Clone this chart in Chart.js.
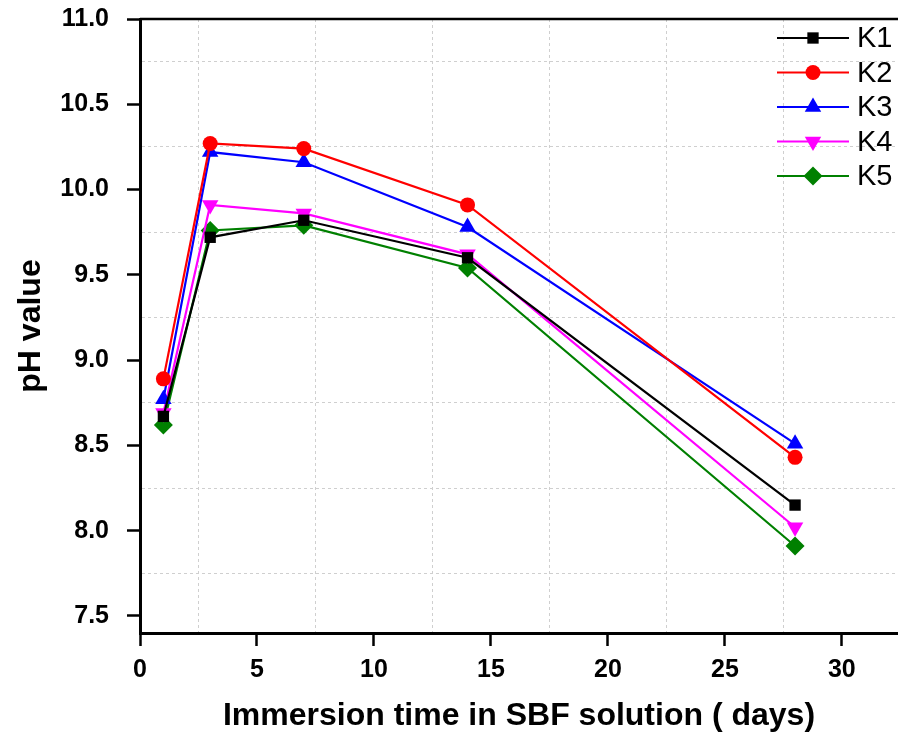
<!DOCTYPE html>
<html>
<head>
<meta charset="utf-8">
<script src="https://cdn.jsdelivr.net/npm/chart.js@4"></script>
<style>
  html, body { margin: 0; padding: 0; background: #fff; }
  #wrap { width: 898px; height: 735px; }
</style>
</head>
<body>
<div id="wrap"><canvas id="c" width="898" height="735"></canvas></div>
<script>
const days = [1, 3, 7, 14, 28];
const k1 = [8.67, 9.72, 9.82, 9.60, 8.15];
const k2 = [8.89, 10.27, 10.24, 9.91, 8.43];
const k3 = [8.77, 10.22, 10.16, 9.78, 8.51];
const k4 = [8.69, 9.91, 9.86, 9.62, 8.02];
const k5 = [8.62, 9.76, 9.79, 9.54, 7.91];
const seriesNames = ['K1', 'K2', 'K3', 'K4', 'K5'];
const colors = ['#000000', '#ff0000', '#0000ff', '#ff00ff', '#008000'];
const markers = ['rect', 'circle', 'triangle', 'triangle', 'rectRot'];
const rotations = [0, 0, 0, 180, 0];

const ctx = document.getElementById('c').getContext('2d');
const FONT = '"Liberation Sans", Arial, sans-serif';

function pts(vals) {
  return days.map((d, i) => ({ x: d, y: vals[i] }));
}

const allSeries = [k1, k2, k3, k4, k5];
const datasets = allSeries.map((vals, i) => ({
  label: seriesNames[i],
  data: pts(vals),
  borderColor: colors[i],
  backgroundColor: colors[i],
  borderWidth: 2.2,
  pointStyle: markers[i],
  pointRotation: rotations[i],
  pointRadius: markers[i] === 'rect' ? 8 : (markers[i] === 'circle' ? 7.5 : 9.5),
  pointBorderWidth: 0,
  pointHoverRadius: 8
}));

// top frame line + legend drawn inside the plot
const framePlugin = {
  id: 'frame',
  afterDraw(chart) {
    const c = chart.ctx;
    const a = chart.chartArea;
    c.save();
    c.strokeStyle = '#000';
    c.lineWidth = 2.5;
    c.beginPath();
    c.moveTo(a.left, a.top);
    c.lineTo(a.right, a.top);
    c.stroke();

    // legend
    c.font = '29px ' + FONT;
    c.textBaseline = 'middle';
    chart.data.datasets.forEach((ds, i) => {
      const y = 38 + i * 34.5;
      const x0 = 777, x1 = 849, mx = 813;
      c.strokeStyle = ds.borderColor;
      c.lineWidth = 2;
      c.beginPath();
      c.moveTo(x0, y);
      c.lineTo(x1, y);
      c.stroke();
      c.fillStyle = ds.backgroundColor;
      c.strokeStyle = ds.backgroundColor;
      Chart.helpers.drawPoint(c, {
        pointStyle: ds.pointStyle,
        rotation: ds.pointRotation,
        radius: ds.pointRadius,
        borderWidth: 0
      }, mx, y);
      c.fillStyle = '#000';
      c.textAlign = 'left';
      c.fillText(ds.label, 857, y + 1);
    });
    c.restore();
  }
};

const gridColor = (ctx2, step) => {
  const v = ctx2.tick ? ctx2.tick.value : 0;
  const r = Math.round(v / step * 2);
  return (Math.abs(v / step * 2 - r) < 1e-6 && r % 2 === 1) ? '#cfcfcf' : 'rgba(0,0,0,0)';
};
const tickColor = (ctx2, step) => {
  const v = ctx2.tick ? ctx2.tick.value : 0;
  return Math.abs(v / step - Math.round(v / step)) < 1e-6 ? '#000' : 'rgba(0,0,0,0)';
};

new Chart(ctx, {
  type: 'line',
  data: { datasets: datasets },
  plugins: [framePlugin],
  options: {
    responsive: false,
    animation: false,
    layout: { autoPadding: false, padding: { top: 19, right: 0, left: 0, bottom: 0 } },
    plugins: {
      legend: { display: false },
      tooltip: { enabled: false }
    },
    scales: {
      x: {
        type: 'linear',
        min: 0,
        max: 32.4,
        afterFit(scale) {
          scale.height = 102;
          scale.paddingLeft = 0;
          scale.paddingRight = 0;
        },
        ticks: {
          stepSize: 2.5,
          includeBounds: false,
          autoSkip: false,
          maxRotation: 0,
          padding: 9,
          color: '#000',
          font: { family: FONT, size: 25, weight: 'bold' },
          callback: (v) => (Math.abs(v % 5) < 1e-6 ? String(v) : '')
        },
        grid: {
          color: (c) => gridColor(c, 5),
          tickColor: (c) => tickColor(c, 5),
          tickLength: 13,
          tickWidth: 2.5,
          lineWidth: 1
        },
        border: { color: '#000', width: 3, dash: [3, 3] },
        title: {
          display: true,
          text: 'Immersion time in SBF solution ( days)',
          color: '#000',
          font: { family: FONT, size: 32, weight: 'bold' },
          padding: { top: 4, bottom: 0 }
        }
      },
      y: {
        type: 'linear',
        min: 7.4,
        max: 11,
        afterFit(scale) {
          scale.width = 140;
          scale.paddingTop = 0;
          scale.paddingBottom = 0;
        },
        ticks: {
          stepSize: 0.25,
          includeBounds: false,
          autoSkip: false,
          padding: 18,
          color: '#000',
          font: { family: FONT, size: 25, weight: 'bold' },
          callback: (v) => {
            const r = Math.round(v * 2);
            return Math.abs(v * 2 - r) < 1e-6 ? v.toFixed(1) : '';
          }
        },
        grid: {
          color: (c) => gridColor(c, 0.5),
          tickColor: (c) => tickColor(c, 0.5),
          tickLength: 13,
          tickWidth: 2.5,
          lineWidth: 1
        },
        border: { color: '#000', width: 3, dash: [3, 3] },
        title: {
          display: true,
          text: 'pH value',
          color: '#000',
          font: { family: FONT, size: 32, weight: 'bold' },
          padding: { top: 12, bottom: 0 }
        }
      }
    }
  }
});
</script>
</body>
</html>
